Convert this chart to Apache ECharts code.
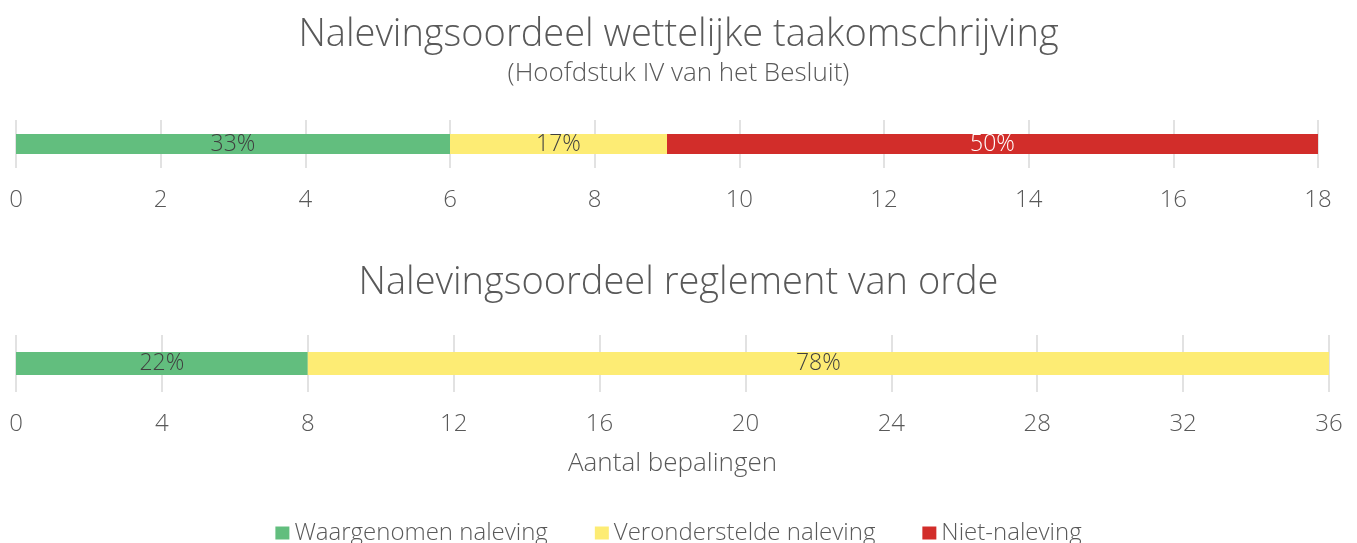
<!DOCTYPE html>
<html>
<head>
<meta charset="utf-8">
<script src="https://cdn.jsdelivr.net/npm/echarts@6/dist/echarts.min.js"></script>
<style>html,body{margin:0;padding:0;background:#fff}#c{width:1357px;height:543px}</style>
</head>
<body>
<div id="c"></div>
<script>
var seriesNames = ['Waargenomen naleving', 'Veronderstelde naleving', 'Niet-naleving'];
var colors = ['#62BE7E', '#FDEC74', '#D22D2A'];
var labelColors = ['#404040', '#404040', '#ffffff'];
// top chart: wettelijke taakomschrijving
var topValues = [6, 3, 9];
var topMax = 18, topInterval = 2;
// bottom chart: reglement van orde
var bottomValues = [8, 28];
var bottomMax = 36, bottomInterval = 4;

var FONT = '"Open Sans"';
var FW = 300;
var TXT = '#595959';

function pctFormatter(values) {
  var total = values.reduce(function (a, b) { return a + b; }, 0);
  return function (p) { return Math.round(p.value / total * 100) + '%'; };
}

var series = [];
topValues.forEach(function (v, i) {
  series.push({
    name: seriesNames[i], type: 'bar', stack: 'top', xAxisIndex: 0, yAxisIndex: 0,
    data: [v], barWidth: 20, itemStyle: { color: colors[i] },
    label: { show: true, position: 'inside', formatter: pctFormatter(topValues),
      color: labelColors[i], fontSize: 23, fontFamily: FONT, fontWeight: FW }
  });
});
bottomValues.forEach(function (v, i) {
  series.push({
    name: seriesNames[i], type: 'bar', stack: 'bottom', xAxisIndex: 1, yAxisIndex: 1,
    data: [v], barWidth: 23, itemStyle: { color: colors[i] },
    label: { show: true, position: 'inside', formatter: pctFormatter(bottomValues),
      color: labelColors[i], fontSize: 23, fontFamily: FONT, fontWeight: FW }
  });
});

var axisLabel = { color: TXT, fontSize: 24, fontFamily: FONT, fontWeight: FW, margin: 20 };
var splitLine = { show: true, lineStyle: { color: '#d9d9d9', width: 1.5 } };

var chart = echarts.init(document.getElementById('c'), null, { renderer: 'canvas' });
chart.setOption({
  animation: false,
  textStyle: { fontFamily: FONT },
  title: [
    { text: 'Nalevingsoordeel wettelijke taakomschrijving', left: 'center', top: 11,
      textStyle: { color: TXT, fontSize: 38, fontWeight: FW, fontFamily: FONT } },
    { text: '(Hoofdstuk IV van het Besluit)', left: 'center', top: 56,
      textStyle: { color: TXT, fontSize: 26, fontWeight: FW, fontFamily: FONT } },
    { text: 'Nalevingsoordeel reglement van orde', left: 'center', top: 259,
      textStyle: { color: TXT, fontSize: 38, fontWeight: FW, fontFamily: FONT } }
  ],
  legend: {
    top: 516, left: 'center', itemWidth: 14, itemHeight: 13, itemGap: 47,
    icon: 'rect', data: seriesNames,
    textStyle: { color: TXT, fontSize: 24, fontFamily: FONT, fontWeight: FW }
  },
  grid: [
    { left: 16, right: 39, top: 120, height: 48, containLabel: false },
    { left: 16, right: 28, top: 335, height: 57, containLabel: false }
  ],
  xAxis: [
    { type: 'value', gridIndex: 0, min: 0, max: topMax, interval: topInterval,
      axisLine: { show: false }, axisTick: { show: false }, axisLabel: axisLabel, splitLine: splitLine },
    { type: 'value', gridIndex: 1, min: 0, max: bottomMax, interval: bottomInterval,
      axisLine: { show: false }, axisTick: { show: false }, axisLabel: axisLabel, splitLine: splitLine,
      name: 'Aantal bepalingen', nameLocation: 'middle', nameGap: 59,
      nameTextStyle: { color: TXT, fontSize: 26, fontFamily: FONT, fontWeight: FW } }
  ],
  yAxis: [
    { type: 'category', gridIndex: 0, data: [''], show: false },
    { type: 'category', gridIndex: 1, data: [''], show: false }
  ],
  series: series
});
</script>
</body>
</html>
